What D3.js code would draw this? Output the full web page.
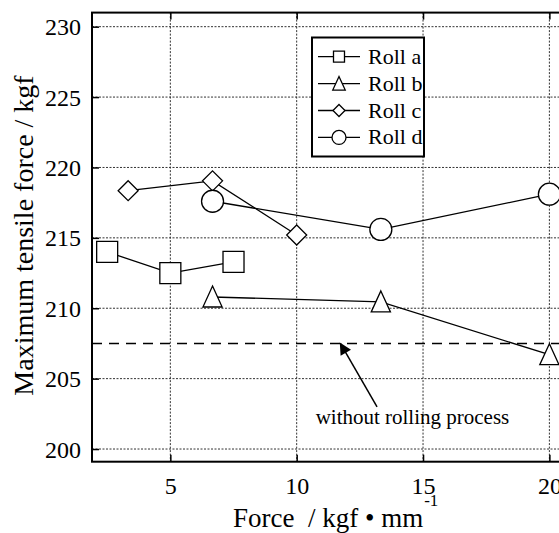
<!DOCTYPE html>
<html>
<head>
<meta charset="utf-8">
<script src="https://cdn.jsdelivr.net/npm/d3@7"></script>
<style>
  body { margin: 0; background: #fff; }
  .serif { font-family: 'Liberation Serif' !important; }
</style>
</head>
<body>
<div id="chart"></div>
<script>
// data
var rollA = [[2.5, 214.0], [5, 212.5], [7.5, 213.3]];
var rollB = [[6.67, 210.8], [13.33, 210.45], [20, 206.7]];
var rollC = [[3.33, 218.35], [6.67, 219.05], [10, 215.2]];
var rollD = [[6.67, 217.6], [13.33, 215.6], [20, 218.1]];
var seriesNames = ['Roll a', 'Roll b', 'Roll c', 'Roll d'];
var seriesShapes = ['square', 'triangle', 'diamond', 'circle'];
var xTicks = [5, 10, 15, 20];
var yTicks = [200, 205, 210, 215, 220, 225, 230];
var baseline = 207.5; // without rolling process
var annotation = { text: 'without rolling process', tip: [11.73, 207.5], tail: [13.18, 203.0], label: [10.75, 201.75] };

var W = 559, H = 533;

var svg = d3.select('#chart').append('svg')
  .attr('width', W)
  .attr('height', H);

var x = d3.scaleLinear().domain([1.9, 21.5]).range([92, 92 + 19.6 * 25.27]);
var y = d3.scaleLinear().domain([199.1, 231]).range([461.7, 12.6]);

var x0 = x.range()[0], x1 = x.range()[1];
var y0 = y.range()[0], y1 = y.range()[1];

// grid
var grid = svg.append('g').attr('class', 'grid')
  .attr('stroke', '#333')
  .attr('stroke-width', 1)
  .attr('stroke-dasharray', '2,1.5');

grid.selectAll('line.gx').data(xTicks).enter().append('line')
  .attr('class', 'gx')
  .attr('x1', function (d) { return x(d); })
  .attr('x2', function (d) { return x(d); })
  .attr('y1', y1).attr('y2', y0);

grid.selectAll('line.gy').data(yTicks).enter().append('line')
  .attr('class', 'gy')
  .attr('x1', x0).attr('x2', x1)
  .attr('y1', function (d) { return y(d); })
  .attr('y2', function (d) { return y(d); });

// axes (ticks inside)
var axB = svg.append('g')
  .attr('transform', 'translate(0,' + y0 + ')')
  .call(d3.axisBottom(x).tickValues(xTicks).tickSizeInner(-7).tickSizeOuter(0).tickPadding(16));
var axT = svg.append('g')
  .attr('transform', 'translate(0,' + y1 + ')')
  .call(d3.axisTop(x).tickValues(xTicks).tickSizeInner(-7).tickSizeOuter(0).tickFormat(''));
var axL = svg.append('g')
  .attr('transform', 'translate(' + x0 + ',0)')
  .call(d3.axisLeft(y).tickValues(yTicks).tickSizeInner(-7).tickSizeOuter(0).tickPadding(11));

[axB, axT, axL].forEach(function (a) {
  a.attr('font-family', null).attr('font-size', null);
  a.select('.domain').remove();
  a.selectAll('.tick line').attr('stroke', '#000').attr('stroke-width', 1.5);
  a.selectAll('.tick text')
    .attr('class', 'serif')
    .attr('fill', '#000')
    .attr('font-size', 24);
});
axL.selectAll('.tick text').attr('dy', 8);
axB.selectAll('.tick text').attr('dy', 16);

// frame
svg.append('rect')
  .attr('x', x0).attr('y', y1)
  .attr('width', x1 - x0).attr('height', y0 - y1)
  .attr('fill', 'none')
  .attr('stroke', '#000')
  .attr('stroke-width', 2);

// baseline dashed
svg.append('line')
  .attr('x1', x0).attr('x2', x1)
  .attr('y1', y(baseline)).attr('y2', y(baseline))
  .attr('stroke', '#000')
  .attr('stroke-width', 1.5)
  .attr('stroke-dasharray', '10,7');

// marker paths
function markerPath(shape, s) {
  var h = s / 2;
  if (shape === 'square') return 'M' + (-h) + ',' + (-h) + 'H' + h + 'V' + h + 'H' + (-h) + 'Z';
  if (shape === 'triangle') return 'M0,' + (-s * 0.55) + 'L' + (s * 0.48) + ',' + (s * 0.5) + 'L' + (-s * 0.48) + ',' + (s * 0.5) + 'Z';
  if (shape === 'diamond') return 'M0,' + (-h) + 'L' + h + ',0L0,' + h + 'L' + (-h) + ',0Z';
  return d3.arc()({ innerRadius: 0, outerRadius: h, startAngle: 0, endAngle: 2 * Math.PI });
}
var markerSize = { square: 21, triangle: 20, diamond: 20, circle: 22 };
var legendSize = { square: 11, triangle: 13, diamond: 12, circle: 14 };

var line = d3.line()
  .x(function (d) { return x(d[0]); })
  .y(function (d) { return y(d[1]); });

var allSeries = [rollA, rollB, rollC, rollD];

allSeries.forEach(function (data) {
  svg.append('path')
    .datum(data)
    .attr('d', line)
    .attr('fill', 'none')
    .attr('stroke', '#000')
    .attr('stroke-width', 1.3);
});

allSeries.forEach(function (data, i) {
  var shape = seriesShapes[i];
  svg.selectAll('path.m' + i).data(data).enter().append('path')
    .attr('class', 'm' + i)
    .attr('transform', function (d) { return 'translate(' + x(d[0]) + ',' + y(d[1]) + ')'; })
    .attr('d', markerPath(shape, markerSize[shape]))
    .attr('fill', '#fff')
    .attr('stroke', '#000')
    .attr('stroke-width', 1.3);
});

// annotation arrow
svg.append('defs').append('marker')
  .attr('id', 'ah')
  .attr('viewBox', '0 0 10 10')
  .attr('refX', 9).attr('refY', 5)
  .attr('markerWidth', 16).attr('markerHeight', 12)
  .attr('markerUnits', 'userSpaceOnUse')
  .attr('orient', 'auto')
  .append('path')
  .attr('d', 'M0,0L10,5L0,10Z')
  .attr('fill', '#000');

svg.append('line')
  .attr('x1', x(annotation.tail[0])).attr('y1', y(annotation.tail[1]))
  .attr('x2', x(annotation.tip[0])).attr('y2', y(annotation.tip[1]))
  .attr('stroke', '#000')
  .attr('stroke-width', 1.5)
  .attr('marker-end', 'url(#ah)');

svg.append('text')
  .attr('class', 'serif')
  .attr('x', x(annotation.label[0]))
  .attr('y', y(annotation.label[1]))
  .attr('font-size', 21)
  .text(annotation.text);

// legend
var lg = svg.append('g');
lg.append('rect')
  .attr('x', 312).attr('y', 37.5)
  .attr('width', 112).attr('height', 119)
  .attr('fill', '#fff')
  .attr('stroke', '#000')
  .attr('stroke-width', 2);

seriesNames.forEach(function (name, i) {
  var shape = seriesShapes[i];
  var ly = 56.7 + i * 26.9;
  lg.append('line')
    .attr('x1', 318).attr('x2', 360)
    .attr('y1', ly).attr('y2', ly)
    .attr('stroke', '#000').attr('stroke-width', 1.3);
  lg.append('path')
    .attr('transform', 'translate(339,' + ly + ')')
    .attr('d', markerPath(shape, legendSize[shape]))
    .attr('fill', '#fff')
    .attr('stroke', '#000')
    .attr('stroke-width', 1.3);
  lg.append('text')
    .attr('class', 'serif')
    .attr('x', 368).attr('y', ly + 7)
    .attr('font-size', 22)
    .text(name);
});

// axis titles
svg.append('text')
  .attr('class', 'serif')
  .attr('transform', 'translate(33,235.5) rotate(-90)')
  .attr('text-anchor', 'middle')
  .attr('font-size', 28)
  .text('Maximum tensile force / kgf');

var xt = svg.append('text')
  .attr('class', 'serif')
  .attr('x', 233).attr('y', 527)
  .attr('font-size', 27)
  .style('white-space', 'pre');
xt.append('tspan').text('Force  / kgf \u2022 mm');
xt.append('tspan').attr('dx', 1).attr('dy', -21).attr('font-size', 17).text('-1');
</script>
</body>
</html>
